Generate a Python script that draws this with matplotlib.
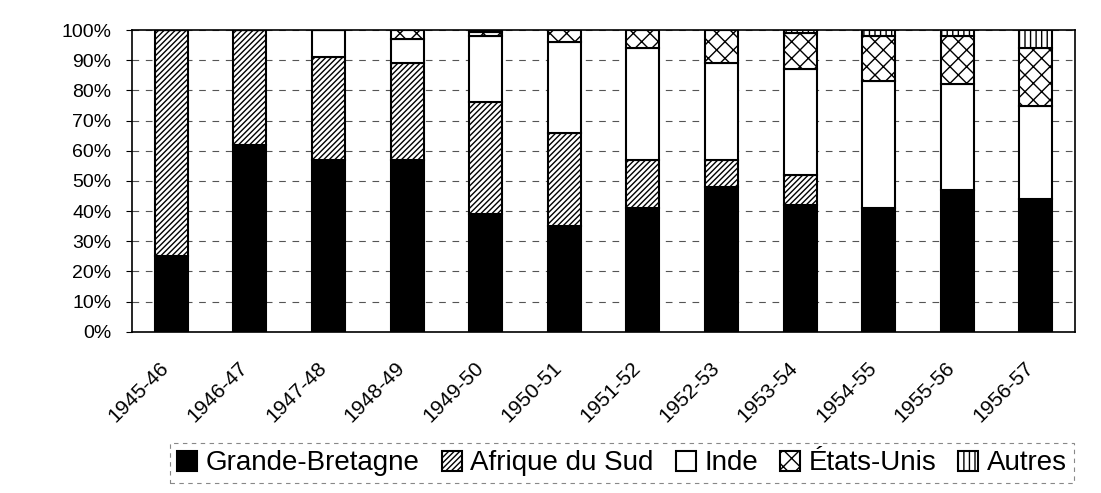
import numpy as np
import matplotlib.pyplot as plt
import matplotlib.transforms as mtransforms
from matplotlib.ticker import PercentFormatter

plt.rcParams['font.family'] = ['Liberation Sans', 'DejaVu Sans']
plt.rcParams['hatch.linewidth'] = 1.0

# Parts (%) by year
years = ['1945-46', '1946-47', '1947-48', '1948-49', '1949-50', '1950-51',
         '1951-52', '1952-53', '1953-54', '1954-55', '1955-56', '1956-57']
grande_bretagne = [25, 62, 57, 57, 39, 35, 41, 48, 42, 41, 47, 44]
afrique_du_sud = [75, 38, 34, 32, 37, 31, 16, 9, 10, 0, 0, 0]
inde = [0, 0, 9, 8, 22, 30, 37, 32, 35, 42, 35, 31]
etats_unis = [0, 0, 0, 3, 1.5, 4, 6, 11, 12, 15, 16, 19]
autres = [0, 0, 0, 0, 0.5, 0, 0, 0, 1, 2, 2, 6]

series = [
    ('Grande-Bretagne', grande_bretagne, 'black', ''),
    ('Afrique du Sud', afrique_du_sud, 'white', '//////'),
    ('Inde', inde, 'white', ''),
    ('États-Unis', etats_unis, 'white', 'xx'),
    ('Autres', autres, 'white', '|||'),
]

fig = plt.figure(figsize=(11.01, 4.93), dpi=100)
ax = fig.add_axes([0.12, 0.327, 0.8565, 0.612])

x = np.arange(len(years))
bottom = np.zeros(len(years))
for name, vals, color, hatch in series:
    vals = np.array(vals, dtype=float)
    ax.bar(x, vals, 0.42, bottom=bottom, color=color, edgecolor='black',
           hatch=hatch, linewidth=1.5, label=name, zorder=3)
    bottom += vals

ax.set_ylim(0, 100)
ax.set_xlim(-0.5, 11.5)
ax.set_yticks(np.arange(0, 101, 10))
ax.yaxis.set_major_formatter(PercentFormatter(decimals=0))
ax.set_xticks(x)
ax.set_xticklabels(years, rotation=45, ha='right', rotation_mode='anchor')
ax.tick_params(axis='y', labelsize=14, length=4, pad=11)
ax.tick_params(axis='x', labelsize=15, length=0, pad=19)
shift = mtransforms.ScaledTranslation(-0.12, 0, fig.dpi_scale_trans)
for lbl in ax.get_xticklabels():
    lbl.set_transform(lbl.get_transform() + shift)
ax.grid(axis='y', linestyle=(0, (6, 6)), color='#555555', linewidth=0.8, zorder=0)
for s in ax.spines.values():
    s.set_linewidth(1.2)

leg = fig.legend(*ax.get_legend_handles_labels(), loc='center',
                 bbox_to_anchor=(0.565, 0.06), ncol=5,
                 fontsize=20, handlelength=0.72, handleheight=0.72,
                 handletextpad=0.3, columnspacing=0.8, borderpad=0.25,
                 fancybox=False, framealpha=1)
leg.get_frame().set_edgecolor('#888888')
leg.get_frame().set_linestyle((0, (4, 4)))
leg.get_frame().set_linewidth(0.8)

fig.savefig('out.png', dpi=100)
